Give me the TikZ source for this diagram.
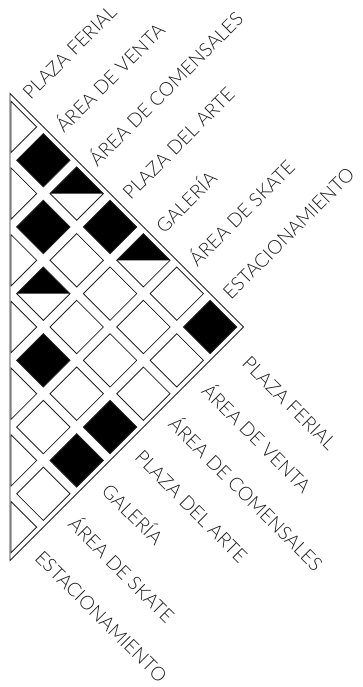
\documentclass[tikz,border=0pt]{standalone}
\usepackage{fontspec}
\newfontfamily\labelfont{Lato}[UprightFont={* Light}]
\usepackage{tikz}
\usetikzlibrary{calc}
\definecolor{gridgray}{RGB}{35, 35, 35}
\definecolor{labelgray}{RGB}{30, 30, 30}

\tikzset{
  cellbox/.style={draw=gridgray, line width=0.6pt},
  edgelabel/.style={font=\labelfont\fontsize{13.6}{13.6}\selectfont, text=labelgray, inner sep=0pt, anchor=base west}
}

\begin{document}
\begin{tikzpicture}
  \useasboundingbox (0,0) rectangle (9.05,17.175);

  \begin{scope}[shift={(6.0875,9.0)}, rotate=135, scale=1.1794]
    % Outer triangle
    \draw[cellbox] (7,0) -- (0,0) -- (0,7) -- cycle;

    % Empty cells
    \foreach \p/\q in {3/1, 2/2, 1/3, 1/4, 0/5, 2/1, 1/2, 1/1, 0/2, 1/0, 0/1}
      \draw[cellbox] (\p+0.1,\q+0.1) rectangle (\p+0.9,\q+0.9);

    % Full cells
    \foreach \p/\q in {5/0, 4/1, 2/3, 0/4, 3/0, 0/3, 0/0}
      \draw[cellbox, fill=black] (\p+0.1,\q+0.1) rectangle (\p+0.9,\q+0.9);

    % Half cells
    \foreach \p/\q in {3/2, 4/0, 2/0} {
      \fill[black] (\p+0.1,\q+0.1) -- (\p+0.9,\q+0.1) -- (\p+0.9,\q+0.9) -- cycle;
      \draw[cellbox] (\p+0.1,\q+0.1) rectangle (\p+0.9,\q+0.9);
    }

    % Self cells on the left edge
    \foreach \i in {0,...,6}
      \draw[cellbox] (6.1-\i,\i+0.1) -- (6.1-\i,\i+0.87) -- (6.87-\i,\i+0.1) -- cycle;

    % Label anchors
    \foreach \i in {0,...,6} {
      \coordinate (tc\i) at (6.58-\i,-0.2);
      \coordinate (bc\i) at (-0.33,\i+0.62);
    }
    \coordinate (bc0) at (-0.52,0.6);
  \end{scope}

  % Labels
  \foreach \name [count=\i from 0] in {PLAZA FERIAL, ÁREA DE VENTA, ÁREA DE COMENSALES, PLAZA DEL ARTE, GALERÍA, ÁREA DE SKATE, ESTACIONAMIENTO} {
    \node[edgelabel, rotate=45] (top\i) at (tc\i) {\name};
    \node[edgelabel, rotate=-45] (bot\i) at (bc\i) {\name};
  }
\end{tikzpicture}
\end{document}
